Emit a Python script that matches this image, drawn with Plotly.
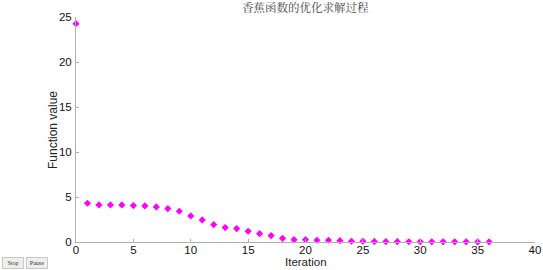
import plotly.graph_objects as go

iterations = list(range(0, 37))
function_values = [24.26, 4.31, 4.12, 4.12, 4.12, 4.05, 4.01, 3.90, 3.71, 3.42,
                   2.90, 2.45, 1.93, 1.60, 1.49, 1.19, 0.93, 0.71, 0.41, 0.26,
                   0.26, 0.19, 0.19, 0.15, 0.08, 0.07, 0.05, 0.04, 0.04, 0.03,
                   0.03, 0.02, 0.02, 0.02, 0.02, 0.01, 0.01]
x_ticks = [0, 5, 10, 15, 20, 25, 30, 35, 40]
y_ticks = [0, 5, 10, 15, 20, 25]
title_text = "香蕉函数的优化求解过程"

L, R, T, B = 76, 8, 17, 28
W, H = 543, 270
pw, ph = W - L - R, H - T - B

fig = go.Figure()
fig.add_trace(go.Scatter(
    x=iterations, y=function_values, mode="markers",
    marker=dict(symbol="diamond", size=5.5, color="#ff00ff", line=dict(width=0)),
    cliponaxis=False, showlegend=False,
))

axis_common = dict(
    showgrid=False, zeroline=False, showline=True, linecolor="#b0b0b0", linewidth=1,
    ticks="inside", ticklen=3, tickcolor="#b0b0b0", mirror=False, automargin=False,
    tickfont=dict(family="Liberation Sans, Arial", size=11.5, color="#111"),
)

def px(xp):
    return (xp - L) / pw

def py(yp):
    return (H - B - yp) / ph

btn = dict(xref="paper", yref="paper", xanchor="center", yanchor="middle", showarrow=False,
           font=dict(family="Liberation Serif", size=6, color="#333"),
           bgcolor="#eeeeee", bordercolor="#c8c8c8", borderwidth=1, borderpad=1,
           width=18, height=8)

fig.update_layout(
    width=W, height=H,
    margin=dict(l=L, r=R, t=T, b=B, autoexpand=False),
    paper_bgcolor="white", plot_bgcolor="white",
    xaxis=dict(range=[0, 40], tickvals=x_ticks, ticklabelstandoff=-3, **axis_common),
    yaxis=dict(range=[0, 25], tickvals=y_ticks, ticklabelstandoff=1, **axis_common),
    annotations=[
        dict(text=title_text, xref="paper", yref="paper", x=0.5, y=py(7),
             xanchor="center", yanchor="middle", showarrow=False,
             font=dict(family="Noto Serif CJK SC, Noto Sans CJK SC", size=11.5, color="#444")),
        dict(text="Iteration", xref="paper", yref="paper", x=0.5, y=py(262),
             xanchor="center", yanchor="middle", showarrow=False,
             font=dict(family="Liberation Sans, Arial", size=11.5, color="#222")),
        dict(text="Function value", xref="paper", yref="paper", x=px(53), y=py(130),
             xanchor="center", yanchor="middle", showarrow=False, textangle=-90,
             font=dict(family="Liberation Sans, Arial", size=12, color="#222")),
        dict(text="Stop", x=px(13), y=py(263), **btn),
        dict(text="Pause", x=px(37), y=py(263), **btn),
    ],
)

fig.write_html("out.html", config={"displayModeBar": False},
               post_script="document.body.style.margin='0';document.body.style.overflow='hidden';")
